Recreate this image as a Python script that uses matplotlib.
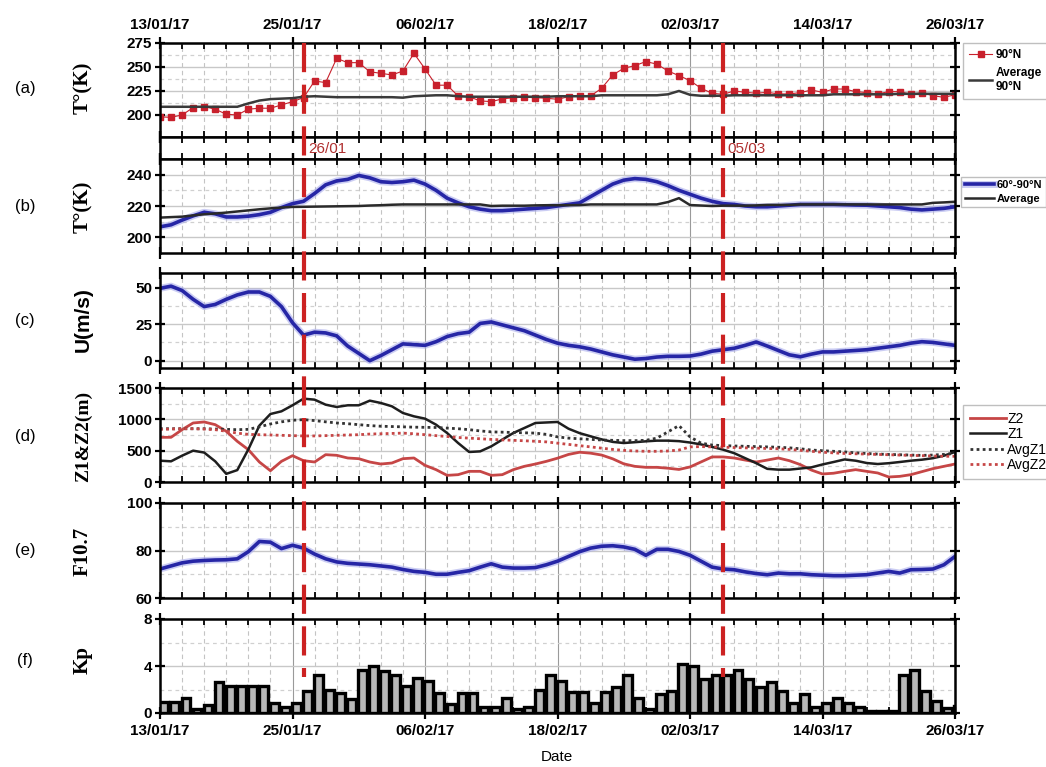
import numpy as np
import matplotlib
matplotlib.use("Agg")
import matplotlib.pyplot as plt
import matplotlib.patheffects as pe
from matplotlib.lines import Line2D
from matplotlib import transforms

plt.rcParams['font.family'] = ['Liberation Sans Narrow', 'Liberation Sans', 'DejaVu Sans']

# ---- data (one value per day, 13/01/17 .. 26/03/17) ----
date_labels = ["13/01/17", "25/01/17", "06/02/17", "18/02/17", "02/03/17", "14/03/17", "26/03/17"]
event_days = [13, 51]
event_labels = ["26/01", "05/03"]

t_90n = [198, 197.5, 200, 207.6, 208.7, 206, 200.7, 200, 206, 207, 207, 210.4, 213.9,
         218, 235.4, 233.7, 259, 254.5, 254.5, 245, 243.4, 241.7, 245.8, 264.2, 248, 231, 231,
         219.8, 219, 214.6, 213.9, 216.7, 218, 218.4, 218, 217.4, 216.3,
         219, 219.8, 219.8, 227.8, 241.7, 248.6, 251.4, 255.6, 253, 245.8, 241, 235.8, 227.8, 222.6, 221.5,
         225, 223.6, 222.6, 223.6, 221.9, 221.9, 223.3, 226, 223.6, 227, 227, 224.3, 223.3, 221.9, 224.3,
         224.3, 221.5, 223.3, 220, 218.4, 221]
t_avg_a = ([208.5] * 8 + [212, 215, 216.5, 217, 217.5, 219, 219.5, 219] + [218.5] * 6 +
           [218, 219.5, 220, 220.5, 220.5, 219.5] + [219] * 8 + [219.5] * 4 + [220.5] * 6 +
           [221.5, 225, 221] + [220] * 3 + [220.5] * 9 + [221.5] * 6 + [222] * 6)

t_6090 = [206.7, 208, 211, 213.7, 216, 215, 213, 213, 213.5, 214.5,
          216, 219, 221.5, 223, 228, 233.5, 236, 237, 239.5, 238,
          235.5, 235, 235.5, 236.5, 234, 230, 225, 222, 219.5, 218,
          217, 217, 217.5, 218, 218.5, 219, 220, 221, 222, 226,
          230, 234, 236.5, 237.5, 237, 235.5, 233, 230, 227.5, 225,
          223, 221.5, 221, 220, 219.5, 219.5, 220, 220.5, 221, 221,
          221, 221, 220.8, 220.6, 220.5, 220, 219.5, 219, 218, 217.5,
          218, 218.5, 219.5]
t_avg_b = ([212.6, 212.9, 213.2, 214, 214.7, 215.2, 215.8, 216.5, 217.2, 217.9, 218.5, 219, 219.4,
            219.5, 219.6, 219.7, 219.8, 219.9, 220, 220.3, 220.5, 220.8, 221] + [221] * 7 + [220] +
           [220.2] * 3 + [220.4] + [220.5] * 3 + [220.6] + [221] * 7 +
           [222.5, 225, 220.6, 220.3, 220] + [220.2] * 3 + [220.4] + [220.7] * 3 + [221] * 12 +
           [222, 222.3, 222.7])

u_wind = [49.5, 51, 48, 42, 37, 38.5, 42, 45, 47, 47,
          44, 37, 26, 17.5, 19.5, 19, 17, 10, 5, 0,
          3.5, 7.5, 11.5, 11, 10.5, 13, 16.5, 18.5, 19.5, 25.5,
          26.5, 24.5, 22.5, 20.5, 17.5, 14.5, 12, 10.5, 9.5, 8,
          6, 4, 2.5, 1, 1.5, 2.5, 3, 3, 3.2, 4.5,
          6.5, 7.5, 8.5, 10.5, 12.8, 10, 7, 4, 2.7, 4.5,
          6, 6, 6.5, 7, 7.5, 8.5, 9.5, 10.5, 12, 13,
          12.5, 11.5, 10.5]

z2 = [713, 713, 835, 942, 958, 915, 809, 649, 516, 319,
      180, 330, 420, 340, 319, 436, 426, 383, 372, 319,
      287, 303, 372, 383, 266, 197, 106, 117, 170, 170,
      106, 117, 197, 250, 287, 330, 380, 440, 475, 460,
      430, 370, 290, 250, 234, 234, 220, 200, 240, 320,
      400, 400, 383, 350, 319, 350, 383, 340, 277, 190,
      128, 140, 170, 197, 170, 144, 80, 90, 117, 165,
      213, 250, 287]
z1 = [340, 330, 420, 500, 470, 330, 130, 190, 520, 900,
      1085, 1128, 1224, 1330, 1314, 1234, 1197, 1224, 1224, 1298,
      1261, 1208, 1101, 1048, 1011, 915, 782, 622, 479, 489,
      569, 676, 782, 862, 942, 950, 958, 850, 780, 729,
      680, 640, 622, 635, 649, 660, 660, 652, 630, 600,
      560, 516, 460, 380, 300, 210, 197, 197, 215, 234,
      280, 319, 360, 340, 303, 287, 300, 319, 340, 356,
      380, 420, 479]
avg_z1 = [850, 850, 850, 850, 850, 845, 840, 835, 840, 880,
          926, 960, 985, 995, 980, 960, 942, 930, 915, 900,
          890, 885, 880, 875, 872, 870, 860, 850, 835, 815,
          800, 795, 790, 785, 780, 760, 720, 700, 690, 680,
          670, 665, 660, 660, 665, 700, 800, 900, 720, 620,
          590, 580, 575, 570, 565, 560, 555, 545, 530, 510,
          500, 490, 480, 465, 455, 445, 440, 435, 430, 425,
          430, 440, 455]
avg_z2 = [840, 845, 850, 850, 845, 835, 810, 780, 760, 755,
          750, 745, 740, 735, 735, 740, 745, 750, 755, 765,
          770, 775, 780, 770, 755, 740, 725, 710, 700, 690,
          680, 672, 665, 658, 650, 640, 620, 600, 580, 560,
          540, 520, 505, 495, 490, 490, 495, 510, 560, 565,
          560, 555, 550, 545, 540, 535, 530, 520, 505, 490,
          475, 465, 455, 450, 445, 440, 435, 430, 425, 420,
          415, 410, 410]

f107 = [72.2, 73.5, 74.8, 75.5, 75.8, 76, 76.1, 76.5, 79.5, 83.8,
        83.5, 80.8, 82.2, 81, 78.5, 76.5, 75.2, 74.6, 74.3, 74,
        73.5, 73, 72, 71.2, 70.8, 70, 70, 70.8, 71.5, 73,
        74.4, 73, 72.6, 72.6, 72.8, 74, 75.5, 77.5, 79.5, 81,
        81.8, 82, 81.5, 80.5, 78, 80.5, 80.5, 79.6, 78, 75.5,
        73, 72.2, 71.9, 71, 70.3, 69.8, 70.5, 70.2, 70.2, 69.8,
        69.6, 69.4, 69.4, 69.6, 69.8, 70.5, 71.2, 70.5, 71.9, 72,
        72.2, 74, 77.5]

kp = [0.9, 0.9, 1.26, 0.3, 0.7, 2.6, 2.3, 2.3, 2.3, 2.3,
      0.86, 0.5, 0.86, 1.9, 3.26, 2, 1.7, 1.2, 3.7, 4,
      3.6, 3.26, 2.3, 3, 2.7, 1.7, 0.8, 1.7, 1.7, 0.5,
      0.5, 1.26, 0.3, 0.5, 2, 3.26, 2.7, 1.8, 1.8, 0.86,
      1.8, 2.2, 3.26, 1.26, 0.3, 1.6, 1.9, 4.2, 4, 2.86,
      3.26, 3.26, 3.7, 2.86, 2.2, 2.6, 1.9, 0.86, 1.6, 0.5,
      0.86, 1.26, 0.86, 0.5, 0.2, 0.2, 0.2, 3.26, 3.7, 1.9,
      1.06, 0.4, 0.6]

days = np.arange(len(t_90n))

W, H = 1046, 767
fig = plt.figure(figsize=(W / 100, H / 100), dpi=100)


def box(top, bottom):
    return [160 / W, 1 - bottom / H, 795 / W, (bottom - top) / H]


def style(ax, yticks=None, ylim=None):
    ax.set_xlim(0, 72)
    ax.set_xticks(np.arange(0, 73, 12))
    ax.set_xticks(np.arange(0, 73, 2), minor=True)
    ax.set_xticklabels([])
    ax.tick_params(axis='x', which='major', direction='inout', length=8, width=1.6, top=True, bottom=True)
    ax.tick_params(axis='x', which='minor', direction='in', length=4, width=1.3, top=True, bottom=True)
    for s in ax.spines.values():
        s.set_linewidth(1.8)
    if yticks is None:
        ax.set_yticks([])
        return
    ax.set_ylim(*ylim)
    ax.set_yticks(yticks)
    mids = [(a + b) / 2 for a, b in zip(yticks[:-1], yticks[1:])]
    ax.set_yticks(mids, minor=True)
    ax.tick_params(axis='y', which='major', direction='inout', length=7, width=1.6, left=True, right=True,
                   labelsize=11, pad=2)
    ax.tick_params(axis='y', which='minor', length=0)
    ax.set_yticklabels([str(v) for v in yticks], fontweight='bold')
    ax.grid(axis='x', which='major', color='#9a9a9a', lw=0.8)
    ax.grid(axis='x', which='minor', color='#c4c4c4', lw=0.8, ls=(0, (4, 3)))
    ax.grid(axis='y', which='major', color='#c8c8c8', lw=1.0)
    ax.grid(axis='y', which='minor', color='#d0d0d0', lw=0.9, ls=(0, (3, 3)))
    ax.set_axisbelow(True)


ax_a = fig.add_axes(box(43, 137))
ax_s = fig.add_axes(box(137, 159))
ax_b = fig.add_axes(box(159, 253))
ax_c = fig.add_axes(box(273, 368))
ax_d = fig.add_axes(box(388, 482))
ax_e = fig.add_axes(box(503, 598))
ax_f = fig.add_axes(box(619, 713))

style(ax_a, [200, 225, 250, 275], (177, 275))
style(ax_s)
style(ax_b, [200, 220, 240], (190, 250))
style(ax_c, [0, 25, 50], (-5, 60))
style(ax_d, [0, 500, 1000, 1500], (0, 1500))
style(ax_e, [60, 80, 100], (60, 100))
style(ax_f, [0, 4, 8], (0, 8))

glow = [pe.Stroke(linewidth=5, foreground='#a9acec', alpha=0.6), pe.Normal()]

# (a)
ax_a.plot(days, t_90n, color='#c8202c', lw=0.8, marker='s', ms=4.5, label='90°N')
ax_a.plot(days, t_avg_a, color='#3a3a3a', lw=1.8, label='Average\n90°N')
ax_a.legend(loc='upper left', bbox_to_anchor=(1.01, 1.0), borderaxespad=0, fancybox=False,
            edgecolor='#b0b0b0', prop=dict(weight='bold', size=8.5), handlelength=2.0,
            handletextpad=0.3, labelspacing=0.5, borderpad=0.5)
ax_a.tick_params(axis='x', labeltop=True, labelbottom=False, labelsize=11, pad=4)
ax_a.set_xticklabels(date_labels, fontweight='bold')

# (b)
ax_b.plot(days, t_6090, color='#2626a6', lw=2.6, path_effects=glow, label='60°-90°N')
ax_b.plot(days, t_avg_b, color='#2a2a2a', lw=1.8, label='Average')
ax_b.legend(loc='upper left', bbox_to_anchor=(1.008, 0.81), borderaxespad=0, fancybox=False,
            edgecolor='#b0b0b0', prop=dict(weight='bold', size=8), handlelength=2.6,
            handletextpad=0.3, labelspacing=0.3, borderpad=0.3)

# (c)
ax_c.plot(days, u_wind, color='#2626a6', lw=2.6, path_effects=glow)

# (d)
ax_d.plot(days, z2, color='#c64646', lw=2.0, label='Z2')
ax_d.plot(days, z1, color='#1e1e1e', lw=1.8, label='Z1')
ax_d.plot(days, avg_z1, color='#333333', lw=2.0, ls=(0, (1, 1.2)), label='AvgZ1')
ax_d.plot(days, avg_z2, color='#c64646', lw=2.0, ls=(0, (1, 1.2)), label='AvgZ2')
ax_d.legend(loc='upper left', bbox_to_anchor=(1.01, 0.82), borderaxespad=0, fancybox=False,
            edgecolor='#b0b0b0', prop=dict(size=10), handlelength=2.6,
            handletextpad=0.1, labelspacing=0.1, borderpad=0.5)

# (e)
ax_e.plot(days, f107, color='#2626a6', lw=2.6, path_effects=glow)

# (f)
ax_f.bar(days + 0.35, kp, width=0.8, color='#b8b8b8', edgecolor='black', linewidth=2.4)
ax_f.tick_params(axis='x', labelbottom=True, labelsize=11, pad=4)
ax_f.set_xticklabels(date_labels, fontweight='bold')

# event markers
trans = transforms.blended_transform_factory(ax_a.transData, fig.transFigure)
strip = transforms.blended_transform_factory(ax_s.transData, ax_s.transAxes)
for d, lab in zip(event_days, event_labels):
    fig.add_artist(Line2D([d, d], [1 - 43 / H, 1 - 677 / H], transform=trans,
                          color='#cc2222', lw=3, dashes=(7, 3)))
    ax_s.text(d + 0.4, 0.45, lab, transform=strip, color='#b03030', fontsize=11,
              ha='left', va='center', family=['Liberation Sans', 'DejaVu Sans'])

# labels
panels = ['(a)', '(b)', '(c)', '(d)', '(e)', '(f)']
ylabels = ['T°(K)', 'T°(K)', 'U(m/s)', 'Z1&Z2(m)', 'F10.7', 'Kp']
ypos = [88, 207, 320, 436, 551, 660]
for p, lab, y in zip(panels, ylabels, ypos):
    fig.text(25 / W, 1 - y / H, p, fontsize=12, ha='center', va='center',
             family=['Liberation Sans', 'DejaVu Sans'])
    if lab == 'U(m/s)':
        fam = ['Liberation Sans', 'DejaVu Sans']
    else:
        fam = ['Liberation Serif', 'DejaVu Serif']
    fig.text(83 / W, 1 - y / H, lab, rotation=90, fontsize=15 if lab != 'Z1&Z2(m)' else 14,
             fontweight='bold', ha='center', va='center', family=fam)

fig.text(557 / W, 1 - 757 / H, 'Date', fontsize=11, ha='center', va='center',
         family=['Liberation Sans', 'DejaVu Sans'])

fig.savefig('out.png', dpi=100)
